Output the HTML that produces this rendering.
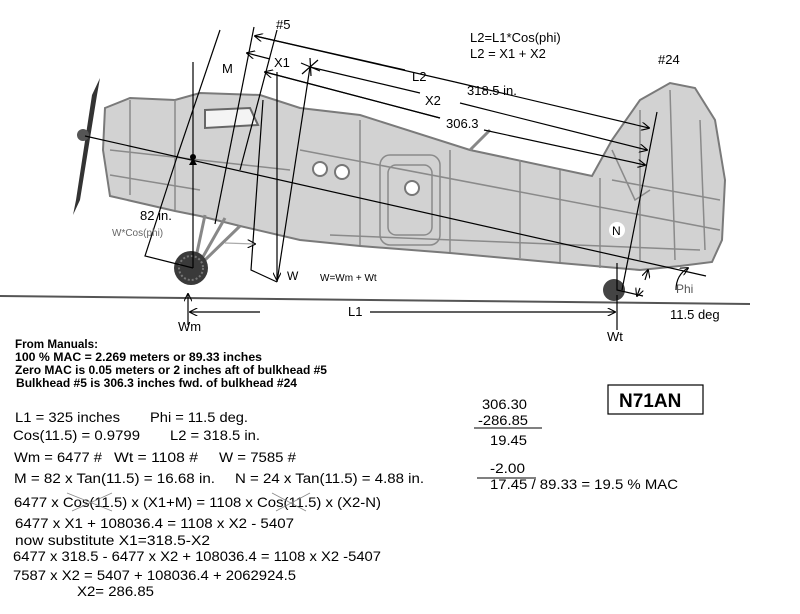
<!DOCTYPE html>
<html><head><meta charset="utf-8"><style>
html,body{margin:0;padding:0;background:#fff}
svg{display:block}
text{font-family:"Liberation Sans",sans-serif;fill:#000}
</style></head><body>
<svg width="800" height="614" viewBox="0 0 800 614" xmlns="http://www.w3.org/2000/svg">
<defs>
<marker id="a" viewBox="0 0 10 10" refX="9" refY="5" markerWidth="7" markerHeight="7" orient="auto-start-reverse"><path d="M0,0 L10,5 L0,10" fill="none" stroke="#000" stroke-width="1.3"/></marker>
</defs>
<path d="M105,108 L130,98 L175,100 L200,93 L260,95 L300,108 L360,115 L470,150 L592,176 L612,140 L640,100 L670,83 L695,88 L715,120 L725,180 L722,240 L712,262 L680,266 L640,270 L560,263 L450,253 L360,246 L300,240 L240,226 L200,216 L175,211 L110,196 L103,150 Z" fill="#d2d2d2" stroke="#7a7a7a" stroke-width="2"/>
<path d="M205,110 L250,108 L258,125 L205,128 Z" fill="#f4f4f4" stroke="#666" stroke-width="2"/>
<g stroke="#8a8a8a" stroke-width="1.5" fill="none">
<path d="M130,100 L130,195 M175,100 L175,210 M110,150 L290,170 M110,175 L200,190"/>
<path d="M360,120 L360,245 M450,150 L450,252 M520,160 L520,258 M560,170 L560,262 M600,178 L600,268"/>
<path d="M300,150 L720,230 M330,235 L700,250"/>
<rect x="380" y="155" width="60" height="90" rx="10"/>
<rect x="388" y="165" width="44" height="70" rx="8"/>
<path d="M640,110 L640,260 M670,90 L675,260 M700,120 L705,250 M612,180 L720,200"/>
<path d="M612,150 L635,200 L650,190"/>
</g>
<circle cx="320" cy="169" r="7" fill="#fff" stroke="#777" stroke-width="2"/>
<circle cx="342" cy="172" r="7" fill="#fff" stroke="#777" stroke-width="2"/>
<circle cx="412" cy="188" r="7" fill="#fff" stroke="#777" stroke-width="2"/>
<path d="M470,150 L490,130" stroke="#888" stroke-width="3"/>
<path d="M100,78 L97,95 L80,200 L73,215 L76,200 L92,95 Z" fill="#333"/>
<circle cx="83" cy="135" r="6" fill="#555"/>
<g stroke="#888" stroke-width="3" fill="none"><path d="M205,215 L195,262 M225,218 L200,262 M240,226 L205,260"/></g>
<circle cx="191" cy="268" r="17" fill="#3a3a3a"/>
<circle cx="191" cy="268" r="12" fill="none" stroke="#777" stroke-width="2" stroke-dasharray="2 2"/>
<circle cx="614" cy="290" r="11" fill="#444"/>
<path d="M0,296 L750,304" stroke="#555" stroke-width="2"/>
<g stroke="#000" stroke-width="1.2" fill="none">
<path d="M85,136 L706,276"/>
<path d="M193,62 L193,268"/>
<path d="M220,30 L177,157"/>
<path d="M177,157 L145,256 L193,268"/>
<path d="M254,27 L215,224"/>
<path d="M277,30 L240,170"/>
<path d="M310,67 L277,282"/>
<path d="M263,100 L251,270 L277,282"/>
<path d="M255,36 L405,70 M455,82 L649,128" marker-end="url(#a)"/>
<path d="M455,82 L255,36" marker-end="url(#a)"/>
<path d="M270,59 L247,53" marker-end="url(#a)"/>
<path d="M310,67 L420,93 M460,103 L647,150" marker-end="url(#a)"/>
<path d="M265,72 L440,118 M484,130 L645,165" marker-end="url(#a)"/>
<path d="M440,118 L265,72" marker-end="url(#a)"/>
<path d="M301,63 L320,71 M310,58 L311,76 M302,74 L318,60"/>
<path d="M657,112 L622,290"/>
<path d="M617,263 L617,290 L643,296"/>
<path d="M645,280 L648,270" marker-end="url(#a)"/>
<path d="M640,288 L637,296" marker-end="url(#a)"/>
<path d="M676,290 Q676,275 688,268" marker-end="url(#a)"/>
<path d="M277,72 L277,280" marker-end="url(#a)"/>
<path d="M188,325 L188,294" marker-end="url(#a)"/>
<path d="M617,295 L617,330"/>
<path d="M260,312 L190,312" marker-end="url(#a)"/>
<path d="M370,312 L615,312" marker-end="url(#a)"/>
<path d="M225,243 L255,244" stroke="#aaa" marker-end="url(#a)"/>
</g>
<circle cx="193" cy="157" r="3" fill="#000"/>
<path d="M189,165 L193,158 L197,165 Z" fill="#000"/>
<text x="276" y="29" font-size="13">#5</text>
<text x="222" y="73" font-size="13">M</text>
<text x="274" y="67" font-size="13">X1</text>
<text x="412" y="81" font-size="13">L2</text>
<text x="425" y="105" font-size="13">X2</text>
<text x="467" y="95" font-size="13">318.5 in.</text>
<text x="446" y="128" font-size="13">306.3</text>
<text x="470" y="42" font-size="13">L2=L1*Cos(phi)</text>
<text x="470" y="58" font-size="13">L2 = X1 + X2</text>
<text x="658" y="64" font-size="13">#24</text>
<text x="140" y="220" font-size="13">82 in.</text>
<text x="112" y="236" font-size="10" style="fill:#666">W*Cos(phi)</text>
<text x="287" y="280" font-size="12">W</text>
<text x="320" y="281" font-size="10">W=Wm + Wt</text>
<circle cx="617" cy="230" r="8" fill="#fff"/>
<text x="612" y="235" font-size="12">N</text>
<text x="676" y="293" font-size="12" style="fill:#555">Phi</text>
<text x="670" y="319" font-size="13">11.5 deg</text>
<text x="348" y="316" font-size="13">L1</text>
<text x="178" y="331" font-size="13">Wm</text>
<text x="607" y="341" font-size="13">Wt</text>
<g font-size="12" font-weight="bold" lengthAdjust="spacingAndGlyphs">
<text x="15" y="348" textLength="83" lengthAdjust="spacingAndGlyphs">From Manuals:</text>
<text x="15" y="361" textLength="247" lengthAdjust="spacingAndGlyphs">100 % MAC = 2.269 meters or 89.33 inches</text>
<text x="15" y="374" textLength="312" lengthAdjust="spacingAndGlyphs">Zero MAC is 0.05 meters or 2 inches aft of bulkhead #5</text>
<text x="16" y="387" textLength="281" lengthAdjust="spacingAndGlyphs">Bulkhead #5 is 306.3 inches fwd. of bulkhead #24</text>
</g>
<g font-size="14">
<text x="15" y="422" textLength="105" lengthAdjust="spacingAndGlyphs">L1 = 325 inches</text><text x="150" y="422" textLength="98" lengthAdjust="spacingAndGlyphs">Phi = 11.5 deg.</text>
<text x="13" y="440" textLength="127" lengthAdjust="spacingAndGlyphs">Cos(11.5) = 0.9799</text><text x="170" y="440" textLength="90" lengthAdjust="spacingAndGlyphs">L2 = 318.5 in.</text>
<text x="14" y="462" textLength="88" lengthAdjust="spacingAndGlyphs">Wm = 6477 #</text><text x="114" y="462" textLength="84" lengthAdjust="spacingAndGlyphs">Wt = 1108 #</text><text x="219" y="462" textLength="77" lengthAdjust="spacingAndGlyphs">W = 7585 #</text>
<text x="14" y="483" textLength="201" lengthAdjust="spacingAndGlyphs">M = 82 x Tan(11.5) = 16.68 in.</text><text x="235" y="483" textLength="189" lengthAdjust="spacingAndGlyphs">N = 24 x Tan(11.5) = 4.88 in.</text>
<text x="14" y="507" textLength="367" lengthAdjust="spacingAndGlyphs">6477 x Cos(11.5) x (X1+M) = 1108 x Cos(11.5) x (X2-N)</text>
<text x="15" y="528" textLength="279" lengthAdjust="spacingAndGlyphs">6477 x X1 + 108036.4  = 1108 x X2 - 5407</text>
<text x="15" y="545" textLength="195" lengthAdjust="spacingAndGlyphs">now  substitute X1=318.5-X2</text>
<text x="13" y="561" textLength="368" lengthAdjust="spacingAndGlyphs">6477 x 318.5 - 6477 x X2 + 108036.4 = 1108 x X2 -5407</text>
<text x="13" y="580" textLength="283" lengthAdjust="spacingAndGlyphs">7587 x X2 = 5407 + 108036.4 + 2062924.5</text>
<text x="77" y="596" textLength="77" lengthAdjust="spacingAndGlyphs">X2= 286.85</text>
<text x="482" y="409" textLength="45" lengthAdjust="spacingAndGlyphs">306.30</text>
<text x="478" y="425" textLength="50" lengthAdjust="spacingAndGlyphs">-286.85</text>
<text x="490" y="445" textLength="37" lengthAdjust="spacingAndGlyphs">19.45</text>
<text x="490" y="473" textLength="35" lengthAdjust="spacingAndGlyphs">-2.00</text>
<text x="490" y="489" textLength="188" lengthAdjust="spacingAndGlyphs">17.45 / 89.33 = 19.5 % MAC</text>
</g>
<g stroke="#000" stroke-width="1"><path d="M474,428 L542,428 M477,478 L536,478"/></g>
<g stroke="#888" stroke-width="0.8"><path d="M67,493 L112,511 M72,511 L112,493 M272,493 L306,511 M276,511 L310,493"/></g>
<rect x="608" y="385" width="95" height="29" fill="#fff" stroke="#000" stroke-width="1.2"/>
<text x="619" y="407" font-size="19" font-weight="bold">N71AN</text>
</svg>
</body></html>
